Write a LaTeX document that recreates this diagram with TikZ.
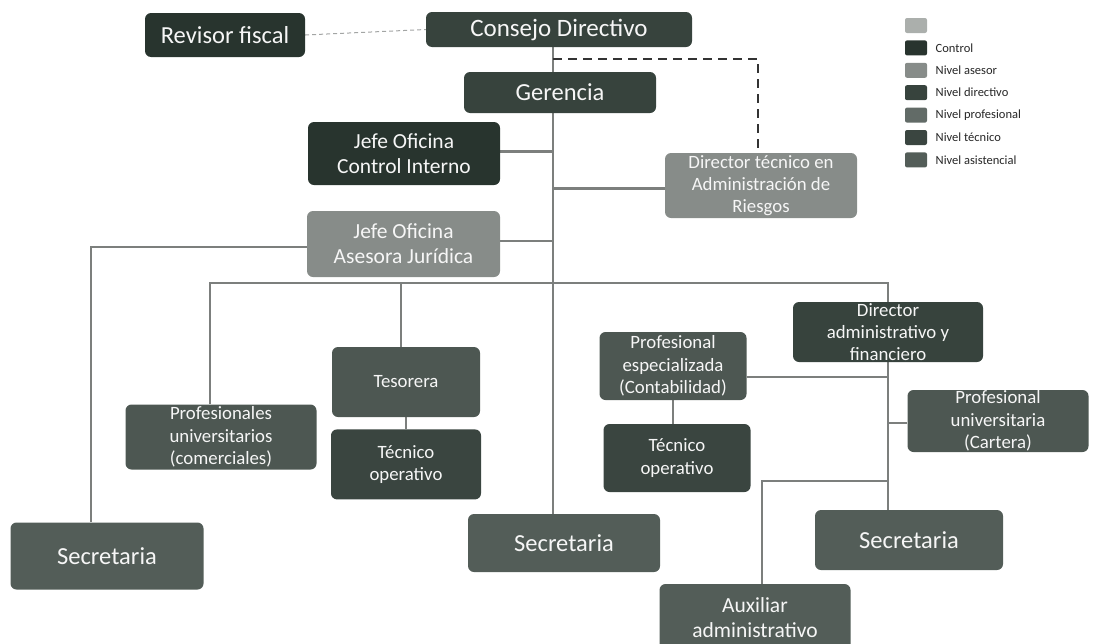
\documentclass[tikz,border=0pt]{standalone}
\usepackage{fontspec}
\setmainfont{Carlito}
\usepackage{xcolor}
\definecolor{ctrl}{HTML}{28342E}
\definecolor{dirc}{HTML}{37433D}
\definecolor{asesor}{HTML}{878C89}
\definecolor{profc}{HTML}{4D5752}
\definecolor{tecc}{HTML}{3A4540}
\definecolor{asis}{HTML}{535D58}
\definecolor{lnc}{HTML}{7C7F7D}
\usepackage{tikz}
\usetikzlibrary{positioning,calc,backgrounds}
\tikzset{
  box/.style={rounded corners=6pt,inner sep=0pt,align=center,text=white!93!gray},
  big/.style={font=\fontsize{24.5}{28}\selectfont},
  mid/.style={font=\fontsize{21.5}{25}\selectfont},
  sml/.style={font=\fontsize{18.8}{22.3}\selectfont},
  cbox/.style={box,fill=ctrl},
  dbox/.style={box,fill=dirc},
  abox/.style={box,fill=asesor},
  pbox/.style={box,fill=profc},
  tbox/.style={box,fill=tecc},
  sbox/.style={box,fill=asis},
  key/.style={rounded corners=2pt,minimum width=22pt,minimum height=15pt,inner sep=0pt},
  lab/.style={font=\fontsize{12.5}{14}\selectfont,anchor=west,text=black!85},
  ln/.style={draw=lnc,line width=2.6pt},
  dln/.style={draw=black!80,line width=2.2pt,dash pattern=on 9pt off 6pt},
}
\begin{document}
\begin{tikzpicture}[x=1pt,y=-1pt]
\useasboundingbox (0,0) rectangle (1093,643);
% top of the chart
\node[cbox,big,minimum width=160pt,minimum height=44pt] (revisor) at (225,35) {Revisor fiscal};
\node[dbox,font=\fontsize{25}{28}\selectfont,minimum width=266pt,minimum height=35pt] (consejo) at (559,29.5) {Consejo Directivo};
\node[dbox,big,minimum width=192pt,minimum height=41pt] (gerencia) at (560,92.5) {Gerencia};
\node[cbox,mid,minimum width=192pt,minimum height=63pt] (cinterno) at (404,153.5) {Jefe Oficina\\Control Interno};
\node[abox,sml,minimum width=192pt,minimum height=65pt] (riesgos) at (761,185.5) {Director técnico en\\Administración de\\Riesgos};
\node[abox,mid,minimum width=193pt,minimum height=66pt] (juridica) at (403.5,244) {Jefe Oficina\\Asesora Jurídica};
% second level
\node[pbox,sml,minimum width=148pt,minimum height=70pt] (tesorera) at (406,382) {Tesorera};
\node[tbox,sml,minimum width=150pt,minimum height=70pt,below=12pt of tesorera] (tecizq) {Técnico\\operativo};
\node[pbox,sml,minimum width=191pt,minimum height=65pt] (comerc) at (221,437) {Profesionales\\universitarios\\(comerciales)};
\node[sbox,big,minimum width=193pt,minimum height=67pt] (secizq) at (107,556) {Secretaria};
\node[sbox,big,minimum width=192pt,minimum height=58pt] (secmed) at (564,543) {Secretaria};
\node[pbox,sml,minimum width=147pt,minimum height=68pt] (contab) at (673,366) {Profesional\\especializada\\(Contabilidad)};
\node[tbox,sml,minimum width=147pt,minimum height=68pt] (tecder) at (677,458) {Técnico\\operativo};
\node[dbox,sml,minimum width=190pt,minimum height=60pt] (diradm) at (888,332) {Director\\administrativo y\\financiero};
\node[pbox,sml,minimum width=181pt,minimum height=62pt] (cartera) at (998,421) {Profesional\\universitaria\\(Cartera)};
\node[sbox,big,minimum width=188pt,minimum height=60pt] (secder) at (909,540) {Secretaria};
\node[sbox,mid,minimum width=191pt,minimum height=68pt] (auxadm) at (755,618) {Auxiliar\\administrativo};
% legend
\node[key,fill=asesor!70!white] (k0) at (916,25.5) {};
\node[key,fill=ctrl,below=7pt of k0] (k1) {};
\node[key,fill=asesor,below=7pt of k1] (k2) {};
\node[key,fill=dirc,below=7pt of k2] (k3) {};
\node[key,fill=profc!88!white,below=7pt of k3] (k4) {};
\node[key,fill=tecc,below=7pt of k4] (k5) {};
\node[key,fill=asis,below=7pt of k5] (k6) {};
\node[lab,right=5pt of k1] {Control};
\node[lab,right=5pt of k2] {Nivel asesor};
\node[lab,right=5pt of k3] {Nivel directivo};
\node[lab,right=5pt of k4] {Nivel profesional};
\node[lab,right=5pt of k5] {Nivel técnico};
\node[lab,right=5pt of k6] {Nivel asistencial};
% connectors
\begin{scope}[on background layer]
\coordinate (spine) at (553,47);
\coordinate (bar) at (553,283);
\coordinate (dash) at (758,59);
\coordinate (auxbar) at (888,481);
\draw[draw=lnc!70,line width=1pt,dash pattern=on 4pt off 3pt] (revisor.east) -- (consejo.west);
\draw[ln] (spine) -- (spine |- secmed.north);
\draw[dln] (dash -| spine) -- (dash) -- (riesgos.north -| dash);
\draw[ln] ([yshift=2pt]cinterno.east) -- ([yshift=2pt]cinterno.east -| spine);
\draw[ln] ([yshift=-3pt]riesgos.west) -- ([yshift=-3pt]riesgos.west -| spine);
\draw[ln] ([yshift=3pt]juridica.east) -- ([yshift=3pt]juridica.east -| spine);
\draw[ln] ([yshift=-3pt]juridica.west) -| ([xshift=-16pt]secizq.north);
\draw[ln] ([xshift=-11pt]comerc.north) |- (bar) -| (diradm.north);
\draw[ln] ([xshift=-5pt]tesorera.north) -- ([xshift=-5pt]tesorera.north |- bar);
\draw[ln] (tesorera) -- (tecizq);
\draw[ln] (diradm.south) -- (diradm.south |- secder.north);
\draw[ln] ([yshift=-11pt]contab.east) -- ([yshift=-11pt]contab.east -| diradm.south);
\draw[ln] (contab) -- (tecder.north -| contab);
\draw[ln] ([yshift=-2pt]cartera.west) -- ([yshift=-2pt]cartera.west -| diradm.south);
\draw[ln] ([xshift=7pt]auxadm.north) |- (auxbar);
\end{scope}
\end{tikzpicture}
\end{document}
